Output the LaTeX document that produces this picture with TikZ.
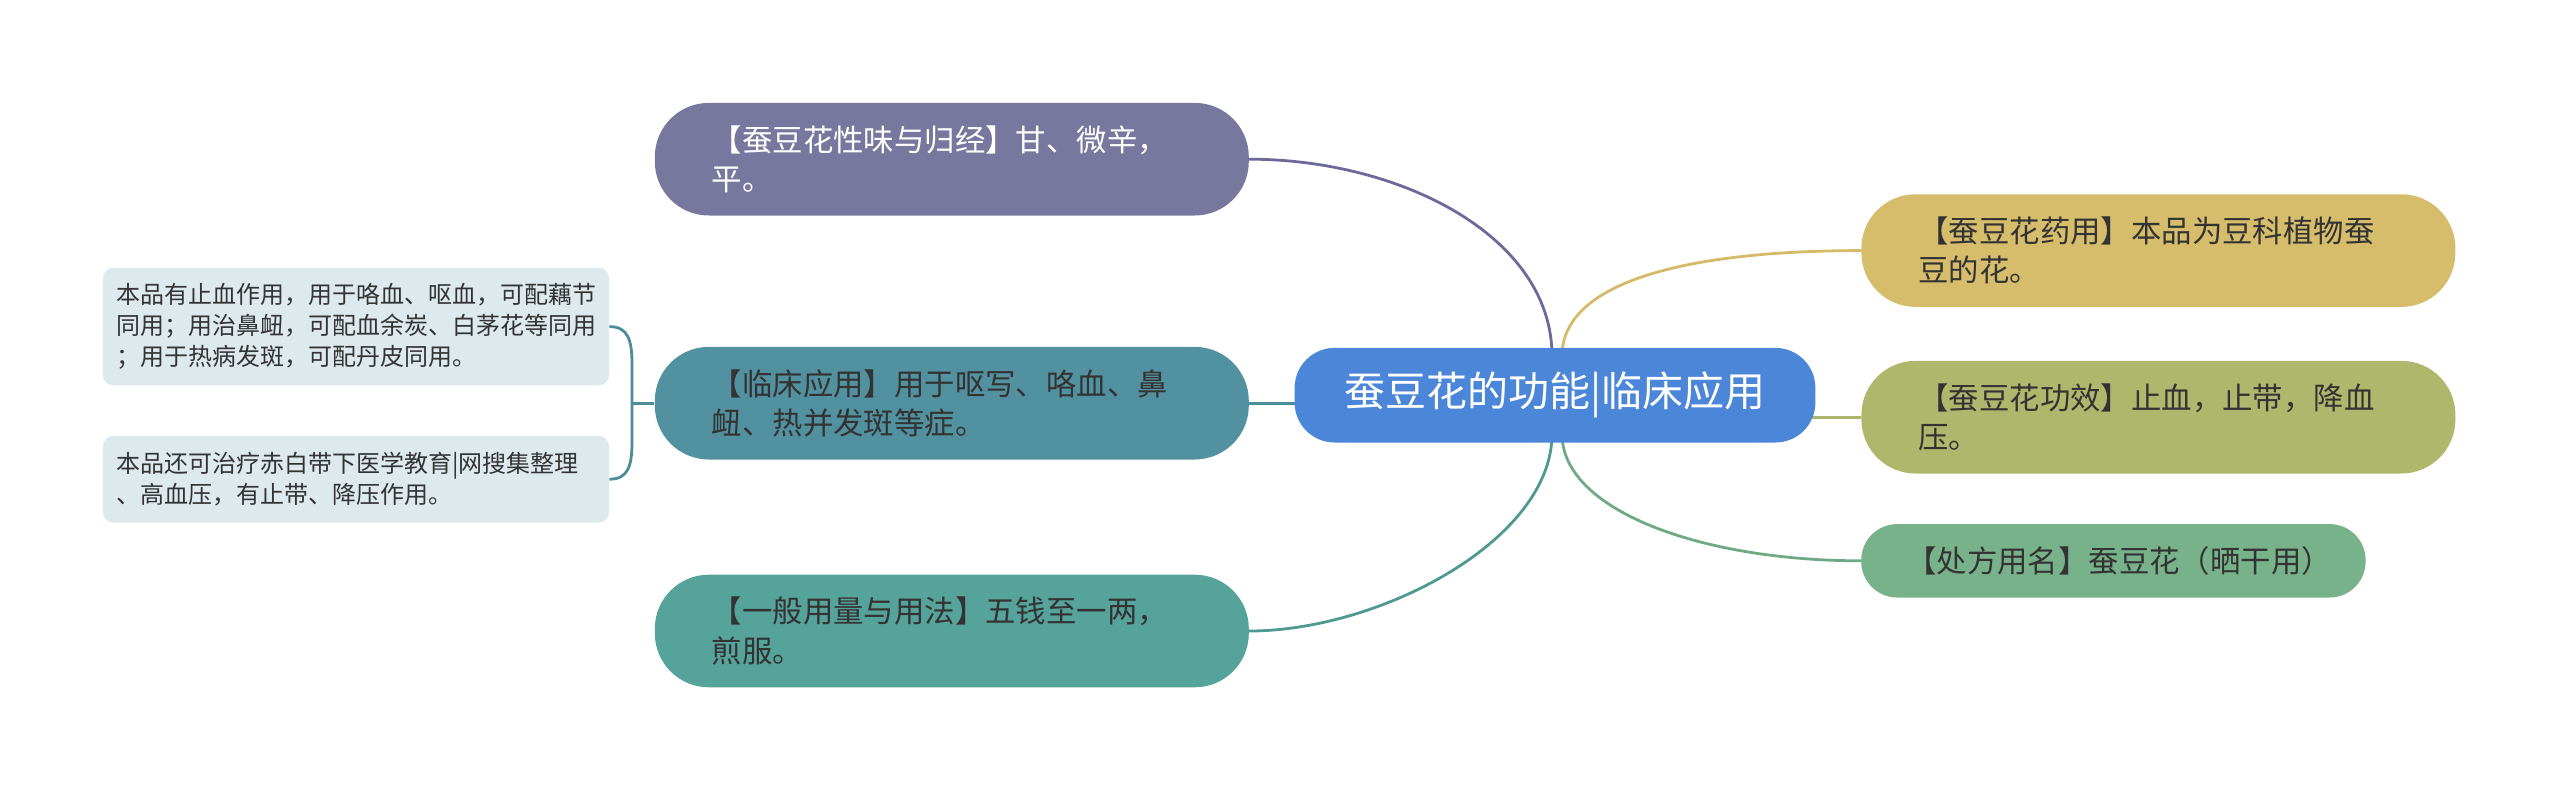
\documentclass[tikz,border=0pt]{standalone}
\usepackage{fontspec}
\setmainfont{Noto Sans CJK SC}
\usetikzlibrary{calc,backgrounds}
\definecolor{Ink}{HTML}{333333}
\definecolor{RootBlue}{HTML}{4B86D8}
\definecolor{TasteFill}{HTML}{78789E}
\definecolor{TasteLine}{HTML}{6C6A9A}
\definecolor{ClinicFill}{HTML}{52919F}
\definecolor{ClinicLine}{HTML}{4C8C9B}
\definecolor{DoseFill}{HTML}{55A39A}
\definecolor{DoseLine}{HTML}{4E9A90}
\definecolor{SourceFill}{HTML}{D5BD6B}
\definecolor{SourceLine}{HTML}{D3BB69}
\definecolor{EffectFill}{HTML}{AEB76B}
\definecolor{EffectLine}{HTML}{ADB66A}
\definecolor{RxFill}{HTML}{78B28B}
\definecolor{RxLine}{HTML}{6FAA84}
\definecolor{LeafBg}{HTML}{DDE9EC}

\tikzset{
  branch/.style={rounded corners=27pt, minimum height=56.3pt, inner xsep=28.5pt, inner ysep=0pt,
    text width=240pt, align=left, text=Ink, font=\fontsize{15.2pt}{19.6pt}\selectfont},
  leaf/.style={fill=LeafBg, rounded corners=5pt, inner xsep=6.5pt, inner ysep=0pt,
    text width=240pt, align=left, text=Ink, font=\fontsize{12pt}{15.5pt}\selectfont},
  link/.style={line width=1.4pt},
}

\begin{document}
\begin{tikzpicture}[x=1pt,y=-1pt]
    \useasboundingbox (0,0) rectangle (1280,396);
    % centre
    \node[fill=RootBlue, text=white, rounded corners=20pt, minimum width=260.4pt, minimum height=47.3pt,
      font=\fontsize{20.5pt}{24pt}\selectfont] (root) at (777.5,197.6) {蚕豆花的功能|临床应用};
    % left side
    \node[branch, fill=TasteFill, text=white] (taste) at (475.9,79.6) {【蚕豆花性味与归经】甘、微辛，\\平。};
    \node[branch, fill=ClinicFill] (clinic) at (475.9,201.6) {【临床应用】用于呕写、咯血、鼻\\衄、热并发斑等症。};
    \node[branch, fill=DoseFill] (dose) at (475.9,315.5) {【一般用量与用法】五钱至一两，\\煎服。};
    \node[leaf, minimum height=58.8pt] (use1) at (178,163.3) {本品有止血作用，用于咯血、呕血，可配藕节\\同用；用治鼻衄，可配血余炭、白茅花等同用\\；用于热病发斑，可配丹皮同用。};
    \node[leaf, minimum height=43.3pt] (use2) at (178,239.6) {本品还可治疗赤白带下医学教育|网搜集整理\\、高血压，有止带、降压作用。};
    % right side
    \node[branch, fill=SourceFill] (source) at (1079.2,125.3) {【蚕豆花药用】本品为豆科植物蚕\\豆的花。};
    \node[branch, fill=EffectFill] (effect) at (1079.2,208.6) {【蚕豆花功效】止血，止带，降血\\压。};
    \node[branch, fill=RxFill, minimum height=36.7pt, rounded corners=18pt, inner xsep=22.5pt,
      text width=207.2pt] (rxname) at (1056.7,280.4) {【处方用名】蚕豆花（晒干用）};

    \begin{scope}[on background layer]
      \coordinate (topL) at (776,178);
      \coordinate (topR) at (781,178);
      \coordinate (botL) at (776,217);
      \coordinate (botR) at (781,217);
      \coordinate (fork) at (316,201.6);
      \draw[link, TasteLine] (taste.east) .. controls (700,79.6) and (776,118) .. (topL);
      \draw[link, SourceLine] (topR) .. controls (781,142) and (840,125.3) .. (source.west);
      \draw[link, DoseLine] (botL) .. controls (776,270) and (690,315.5) .. (dose.east);
      \draw[link, RxLine] (botR) .. controls (781,255) and (850,280.4) .. (rxname.west);
      \draw[link, EffectLine] (effect.west) -- (effect.west -| root.center);
      \draw[link, ClinicLine] (clinic.east) -- (clinic.east -| root.center);
      % bracket for the two notes
      \draw[link, ClinicLine] (use1.east) .. controls (314,163.3) and (316,170) .. (316,182)
        -- (316,221) .. controls (316,233) and (314,239.6) .. (use2.east);
      \draw[link, ClinicLine] (fork) -- (clinic.west);
    \end{scope}
\end{tikzpicture}
\end{document}
